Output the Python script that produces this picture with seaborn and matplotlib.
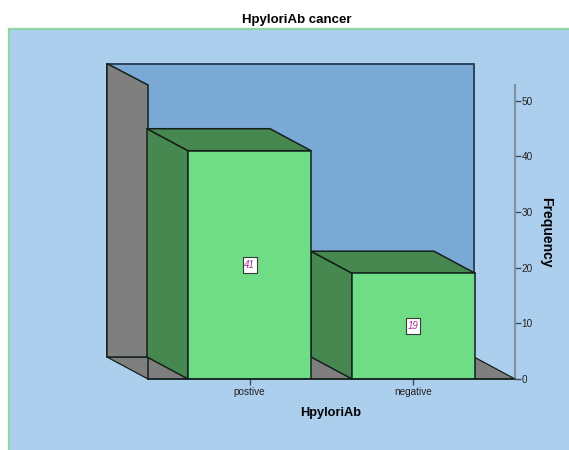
import pandas as pd
import matplotlib
matplotlib.use("Agg")
import matplotlib.pyplot as plt
from matplotlib.patches import Polygon, Rectangle
import seaborn as sns

# values
categories = ["postive", "negative"]
frequency = [41, 19]
y_ticks = [0, 10, 20, 30, 40, 50]

df = pd.DataFrame({"HpyloriAb": categories, "Frequency": frequency})

W, H = 569, 450
FRONT = "#6FDD85"
DARK = "#46884F"
GRAY = "#7F7F7F"
WALL = "#7BA9D6"
PANEL = "#ADCFEE"
EDGE = "#14201C"

sns.set_theme(style="white")
plt.rcParams["font.family"] = ["Liberation Sans", "DejaVu Sans"]

fig = plt.figure(figsize=(W / 100, H / 100), dpi=100, facecolor="white")

# outer panel with the green frame
fig.add_artist(Rectangle((9 / W, -0.02), 0.99, (421 / H) + 0.02, transform=fig.transFigure,
                         facecolor=PANEL, edgecolor="#8FD6A2", linewidth=1.6, zorder=-1))

# axes = front plane of the 3d box
ax = fig.add_axes([148 / W, (H - 379) / H, 367 / W, 294 / H])
ax.patch.set_alpha(0)

bar_w = 0.75
sns.barplot(data=df, x="HpyloriAb", y="Frequency", color=FRONT, saturation=1, width=bar_w,
            edgecolor=EDGE, linewidth=1.1, ax=ax, zorder=5)
ax.set_xlim(-0.619, 1.619)
ax.set_ylim(0, 52.8)

# depth of the 3d effect, in data units
dx, dy = -0.25, 3.95
x0, x1 = ax.get_xlim()
y1 = ax.get_ylim()[1]


def face(points, color, z, lw=1.1, ec=EDGE):
    ax.add_patch(Polygon(points, closed=True, facecolor=color, edgecolor=ec, linewidth=lw,
                         clip_on=False, zorder=z, joinstyle="round"))


bars = list(ax.patches[:2])

# back wall, floor and left wall
face([(x0 + dx, dy), (x1 + dx, dy), (x1 + dx, y1 + dy - 0.1), (x0 + dx, y1 + dy - 0.1)], WALL, 1, lw=1.4, ec="#2E4358")
face([(x0 + dx, dy), (x1 + dx, dy), (x1, 0), (x0, 0)], GRAY, 1.5, lw=0.9)
face([(x0 + dx, dy), (x0, dy), (x0, y1), (x0 + dx, y1 + dy - 0.1)], GRAY, 2)
ax.plot([x0, x0], [0, dy], color=EDGE, lw=1.1, clip_on=False, zorder=2)

# side and top faces of the bars, right bar first
box = [(-7, -8), (7, -8), (7, 8), (-7, 8), (-7, -8)]
for i in [1, 0]:
    left = i - bar_w / 2
    right = i + bar_w / 2
    v = frequency[i]
    z = 3 + (1 - i)
    face([(left, 0), (left + dx, dy), (left + dx, v + dy), (left, v)], DARK, z)
    face([(left, v), (left + dx, v + dy), (right + dx, v + dy), (right, v)], DARK, z)
    ax.plot([i], [v / 2], marker=box, markersize=11.5, markerfacecolor="white",
            markeredgecolor="#3A3A3A", markeredgewidth=0.8, zorder=7)
    ax.text(i, v / 2, str(v), ha="center", va="center", color="#A0309A", style="italic",
            fontsize=7, zorder=8)
for i, p in enumerate(bars):
    p.set_zorder(6 - i)

ax.yaxis.tick_right()
ax.set_yticks(y_ticks)
ax.set_xticks(range(len(categories)), categories)
ax.tick_params(axis="y", length=4.3, width=1.0, color="#3F4A55", labelsize=7.2, labelcolor="#222222", pad=0.3, right=True)
ax.tick_params(axis="x", length=4, width=1.0, color="#3F4A55", labelsize=7.2, labelcolor="#222222", pad=2, bottom=True)
for s in ["top", "left"]:
    ax.spines[s].set_visible(False)
ax.spines["right"].set_color("#7F91A3")
ax.spines["right"].set_linewidth(1.6)
ax.spines["bottom"].set_color(EDGE)
ax.spines["bottom"].set_linewidth(1.1)
ax.spines["bottom"].set_zorder(8)
ax.set_xlabel("")
ax.set_ylabel("")

fig.text(297 / W, (H - 20) / H, "HpyloriAb cancer", ha="center", va="center", fontsize=9.5, fontweight="bold", color="black")
fig.text(331 / W, (H - 413) / H, "HpyloriAb", ha="center", va="center", fontsize=9.2, fontweight="bold", color="black")
fig.text(546 / W, (H - 232) / H, "Frequency", ha="center", va="center", rotation=-90, fontsize=10, fontweight="bold", color="black")

fig.savefig("out.png", dpi=100)
plt.close(fig)
